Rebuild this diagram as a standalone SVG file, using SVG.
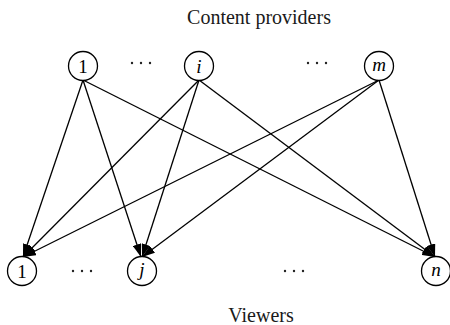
<svg xmlns="http://www.w3.org/2000/svg" width="450" height="325" viewBox="0 0 450 325">
<style>
.n circle{fill:#fff;stroke:#000;stroke-width:1.3}
.t{font-family:"Liberation Serif",serif;font-size:20px;fill:#1a1a1a;text-anchor:middle}
.l{font-family:"Liberation Serif",serif;font-size:19px;fill:#000;text-anchor:middle}
.i{font-style:italic}
.e line{stroke:#000;stroke-width:1.3;marker-end:url(#a)}
.d circle{fill:#222}
</style>
<defs>
<marker id="a" viewBox="0 0 12 8" refX="12" refY="4" markerWidth="13" markerHeight="9" markerUnits="userSpaceOnUse" orient="auto"><path d="M0,0L12,4L0,8z" fill="#000"/></marker>
</defs>
<text class="t" x="259" y="24">Content providers</text>
<text class="t" x="261" y="322">Viewers</text>
<g class="e">
<line x1="83" y1="80" x2="23" y2="257"/>
<line x1="83" y1="80" x2="141" y2="257"/>
<line x1="83" y1="80" x2="435" y2="257"/>
<line x1="199" y1="80" x2="23" y2="257"/>
<line x1="199" y1="80" x2="142" y2="257"/>
<line x1="199" y1="80" x2="435" y2="257"/>
<line x1="379" y1="80" x2="23" y2="257"/>
<line x1="379" y1="80" x2="142" y2="257"/>
<line x1="379" y1="80" x2="435" y2="257"/>
</g>
<g id="p1" class="n"><circle cx="83" cy="66" r="14.5"/><text class="l" x="83" y="72.5">1</text></g>
<g id="pi" class="n"><circle cx="199" cy="66" r="14.5"/><text class="l i" x="199" y="72.5">i</text></g>
<g id="pm" class="n"><circle cx="379" cy="66" r="14.5"/><text class="l i" x="379" y="71">m</text></g>
<g id="v1" class="n"><circle cx="22" cy="271" r="14.5"/><text class="l" x="22" y="277.5">1</text></g>
<g id="vj" class="n"><circle cx="142" cy="271" r="14.5"/><text class="l i" x="142" y="276">j</text></g>
<g id="vn" class="n"><circle cx="436" cy="271" r="14.5"/><text class="l i" x="436" y="276">n</text></g>
<g id="dots" class="d">
<circle cx="132" cy="63" r="1.2"/><circle cx="141" cy="63" r="1.2"/><circle cx="150" cy="63" r="1.2"/>
<circle cx="308" cy="63" r="1.2"/><circle cx="317" cy="63" r="1.2"/><circle cx="326" cy="63" r="1.2"/>
<circle cx="73" cy="271" r="1.2"/><circle cx="82" cy="271" r="1.2"/><circle cx="91" cy="271" r="1.2"/>
<circle cx="285" cy="271" r="1.2"/><circle cx="294" cy="271" r="1.2"/><circle cx="303" cy="271" r="1.2"/>
</g>
</svg>
